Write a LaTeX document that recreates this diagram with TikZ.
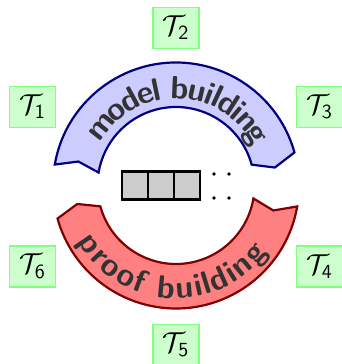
\documentclass[tikz,border=0pt]{standalone}
\usepackage{fontspec}
\usetikzlibrary{decorations.text}

\definecolor{bluefill}{RGB}{204,204,255}
\definecolor{blueline}{RGB}{0,0,128}
\definecolor{redfill}{RGB}{255,128,128}
\definecolor{redline}{RGB}{128,0,0}
\definecolor{theoryfill}{RGB}{204,255,204}
\definecolor{theoryline}{RGB}{128,255,128}
\definecolor{tapefill}{RGB}{204,204,204}
\definecolor{bandtext}{RGB}{51,51,51}

\newcommand{\arcfont}{\sffamily\bfseries\fontsize{16}{19}\selectfont}

\begin{document}
\begin{tikzpicture}[x=0.5pt,y=0.5pt,
  theory/.style={draw=theoryline,fill=theoryfill,line width=0.8pt,
    minimum width=23pt,minimum height=20.5pt,inner sep=1pt,font=\Large},
  band/.style={line width=1.1pt,line join=miter},
  bandlabel/.style={decorate,decoration={text along path,text align=center,
    raise=-6.5pt,text color=bandtext,text={|\arcfont|#1}}},
  cell/.style={draw=black,fill=tapefill,line width=1.3pt,outer sep=0pt,
    minimum width=13pt,minimum height=13.8pt,inner sep=0pt}]
\useasboundingbox (0,0) rectangle (342,364);

\coordinate (c) at (176,178.5);

% upper band: model building (clockwise arrow)
\draw[band,draw=blueline,fill=bluefill]
  ([shift={(170.2:123)}]c) arc[start angle=170.2,end angle=15.6,radius=123]
  -- ([shift={(10.3:100.5)}]c)
  -- ([shift={(15.4:78.5)}]c) arc[start angle=15.4,end angle=170.5,radius=78.5]
  -- ([shift={(166.2:100.5)}]c) -- cycle;
\path[bandlabel={model building}]
  ([shift={(170:100)}]c) arc[start angle=170,end angle=7,radius=100];

% lower band: proof building (clockwise arrow)
\draw[band,draw=redline,fill=redfill]
  ([shift={(350.2:123)}]c) arc[start angle=350.2,end angle=195.6,radius=123]
  -- ([shift={(190.6:100.5)}]c)
  -- ([shift={(195.4:78.5)}]c) arc[start angle=195.4,end angle=350.5,radius=78.5]
  -- ([shift={(345.6:100.5)}]c) -- cycle;
\path[bandlabel={proof building}]
  ([shift={(195:100)}]c) arc[start angle=195,end angle=339,radius=100];

% tape in the middle: three adjacent cells sharing their borders
\node[cell] (cell1) at (135,178.5) {};
\node[cell,anchor=west] (cell2) at (cell1.east) {};
\node[cell,anchor=west] (cell3) at (cell2.east) {};
\foreach \px/\py in {214/190,229/190,214/166,229/166}
  \fill (\px,\py) circle[radius=0.9pt];

% theories around the cycle
\node[theory] (t1) at (32.5,257)   {$\mathcal{T}_{\mathsf{1}}$};
\node[theory] (t2) at (176,336)    {$\mathcal{T}_{\mathsf{2}}$};
\node[theory] (t3) at (319.5,257)  {$\mathcal{T}_{\mathsf{3}}$};
\node[theory] (t4) at (319.5,97.5) {$\mathcal{T}_{\mathsf{4}}$};
\node[theory] (t5) at (176,19)     {$\mathcal{T}_{\mathsf{5}}$};
\node[theory] (t6) at (32.5,97.5)  {$\mathcal{T}_{\mathsf{6}}$};
\end{tikzpicture}
\end{document}
